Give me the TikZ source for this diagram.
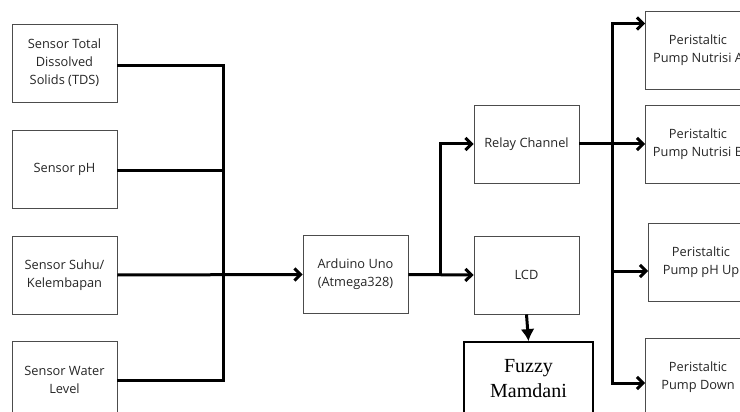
\documentclass[tikz,border=0pt]{standalone}
\usepackage{fontspec}
\setmainfont{Open Sans}
\newfontfamily\fuzzyfont{Liberation Serif}
\usetikzlibrary{arrows.meta}

\tikzset{
  block/.style={draw=black!70, line width=0.9pt, minimum width=105pt, minimum height=78pt,
    inner sep=0pt, align=center, text=black!85, font=\fontsize{12.8}{18}\selectfont},
  wire/.style={line width=3pt},
  feed/.style={wire, -{Straight Barb[length=6pt,width=12pt]}},
}

\begin{document}
\begin{tikzpicture}[x=1pt, y=-1pt]
        \clip (0,0) rectangle (740,412);
        \fill[white] (0,0) rectangle (740,412);
        % Sensors
        \node[block] (tds) at (64.5,63) {Sensor Total\\Dissolved\\Solids (TDS)};
        \node[block] (ph) at (64.5,169) {Sensor pH};
        \node[block] (suhu) at (64.5,275) {Sensor Suhu/\\Kelembapan};
        \node[block] (water) at (64.5,380) {Sensor Water\\Level};
        % Controller
        \node[block] (arduino) at (355.5,274.5) {Arduino Uno\\(Atmega328)};
        \node[block] (relay) at (526.5,144) {Relay Channel};
        \node[block] (lcd) at (526.5,275) {LCD};
        \node[block, draw=black, text=black, line width=1.8pt, minimum width=129pt, minimum height=74pt,
          font=\fuzzyfont\fontsize{20}{25}\selectfont] (fuzzy) at (528.5,379) {Fuzzy\\Mamdani};
        % Pumps
        \node[block] (pa) at (698,50) {Peristaltic\\Pump Nutrisi A};
        \node[block] (pb) at (698,144) {Peristaltic\\Pump Nutrisi B};
        \node[block] (pup) at (701,262) {Peristaltic\\Pump pH Up};
        \node[block] (pdown) at (698,377) {Peristaltic\\Pump Down};
        % Bus lines
        \coordinate (bus) at (223,275);
        \coordinate (fork) at (440,275);
        \coordinate (pbus) at (612,144);
        \draw[wire] ([yshift=-3pt]tds.east) -| (bus);
        \draw[wire] ([yshift=-1pt]ph.east) -| (bus);
        \draw[wire] (water.east) -| (bus);
        \draw[feed] (suhu.east) -- (arduino.west);
        \draw[feed] (arduino.east) -- (lcd.west);
        \draw[feed] (fork) |- (relay.west);
        \draw[wire, -{Latex[length=12pt,width=14pt]}] (lcd.south) -- (fuzzy.north);
        % Relay to pumps
        \draw[feed] (relay.east) -- (pb.west);
        \draw[feed] (pbus) |- ([yshift=-13pt]pa.north west);
        \draw[feed] (pbus) |- ([yshift=-9pt]pup.west);
        \draw[feed] (pbus) |- ([yshift=-6pt]pdown.west);
    \end{tikzpicture}
\end{document}
